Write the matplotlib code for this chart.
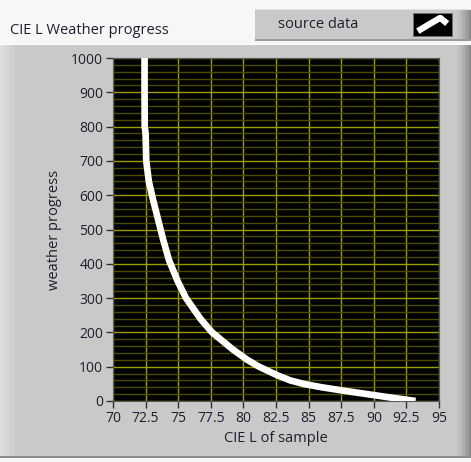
import matplotlib
matplotlib.use("Agg")
import matplotlib.pyplot as plt
from matplotlib.patches import Rectangle
from matplotlib.ticker import MultipleLocator

plt.rcParams["font.family"] = ["Open Sans", "DejaVu Sans"]

# weather progress vs CIE L of the sample
weather = [1000, 900, 800, 780, 700, 640, 590, 530, 470, 410, 350, 300,
           240, 200, 150, 120, 100, 75, 60, 50, 40, 30, 20, 10, 0]
cie_l = [72.42, 72.42, 72.43, 72.5, 72.55, 72.75, 73.05, 73.45, 73.85,
         74.3, 74.95, 75.6, 76.7, 77.6, 79.2, 80.3, 81.2, 82.6,
         83.6, 84.6, 86.0, 87.7, 89.5, 91.3, 93.2]

x_ticks = [70, 72.5, 75, 77.5, 80, 82.5, 85, 87.5, 90, 92.5, 95]
x_tick_labels = ["70", "72.5", "75", "77.5", "80", "82.5", "85", "87.5",
                 "90", "92.5", "95"]
y_ticks = [0, 100, 200, 300, 400, 500, 600, 700, 800, 900, 1000]

W, H = 471, 462
PANEL = "#c9c9c9"
TXT = "#1e1e2e"
FS = 10.5

fig = plt.figure(figsize=(W / 100, H / 100), dpi=100)
fig.patch.set_facecolor("#f7f7f7")


def px_rect(x0, y0, x1, y1, **kw):
    # rectangle given in pixel coords, origin at top-left
    r = Rectangle((x0 / W, 1 - y1 / H), (x1 - x0) / W, (y1 - y0) / H,
                  transform=fig.transFigure, zorder=-5, **kw)
    fig.patches.append(r)
    return r


# graph panel with a bevelled edge
px_rect(0, 44, 471, 458, facecolor=PANEL, edgecolor="none")
px_rect(0, 44, 471, 45, facecolor="white", edgecolor="none")
px_rect(0, 456, 471, 458, facecolor="#8c8c8c", edgecolor="none")
for i, c in enumerate(["#dedede", "#dadada", "#d6d6d6", "#d2d2d2", "#cecece"]):
    px_rect(i * 3, 45, i * 3 + 3, 456, facecolor=c, edgecolor="none")
for i, c in enumerate(["#c2c2c2", "#b8b8b8", "#aaaaaa", "#9c9c9c", "#8a8a8a"]):
    px_rect(457 + i * 3, 45, 460 + i * 3, 456, facecolor=c, edgecolor="none")

# plot legend box
px_rect(255, 9, 471, 41, facecolor=PANEL, edgecolor="none")
px_rect(255, 9, 471, 10, facecolor="#e4e4e4", edgecolor="none")
px_rect(255, 39, 471, 41, facecolor="#9a9a9a", edgecolor="none")
for i, c in enumerate(["#c2c2c2", "#b8b8b8", "#aaaaaa", "#9c9c9c", "#8a8a8a"]):
    px_rect(457 + i * 3, 10, 460 + i * 3, 39, facecolor=c, edgecolor="none")
px_rect(413, 13, 452, 36, facecolor="black", edgecolor="#707070", linewidth=0.6)

# legend line glyph
lg = fig.add_axes([415 / W, 1 - 34 / H, 35 / W, 19 / H])
lg.set_xlim(0, 1)
lg.set_ylim(0, 1)
lg.axis("off")
lg.plot([0.08, 0.35, 0.72, 0.92], [0.15, 0.45, 0.85, 0.55], color="white",
        linewidth=4.5, solid_capstyle="butt", solid_joinstyle="miter")
fig.text(278 / W, 1 - 25 / H, "source data", fontsize=FS, color=TXT,
         va="center", ha="left")

fig.text(10 / W, 1 - 30 / H, "CIE L Weather progress", fontsize=FS,
         color=TXT, va="center", ha="left")

ax = fig.add_axes([113 / W, 1 - 401 / H, 326 / W, 343 / H])
ax.set_facecolor("black")
ax.set_xlim(70, 95)
ax.set_ylim(0, 1000)
ax.set_xticks(x_ticks)
ax.set_xticklabels(x_tick_labels)
ax.set_yticks(y_ticks)
ax.yaxis.set_minor_locator(MultipleLocator(20))
ax.grid(which="major", color="#9c9c00", linewidth=1.0)
ax.grid(which="minor", axis="y", color="#4c4c00", linewidth=1.0)
ax.set_axisbelow(True)
ax.tick_params(which="major", direction="out", length=5, width=1,
               color="#303030", labelsize=10, labelcolor=TXT, pad=2)
ax.tick_params(which="minor", length=0)
for s in ax.spines.values():
    s.set_color("#5a5a5a")
    s.set_linewidth(0.8)

ax.plot(cie_l, weather, color="white", linewidth=4.8,
        solid_capstyle="butt", solid_joinstyle="round", zorder=3)

ax.set_xlabel("CIE L of sample", fontsize=FS, color=TXT, labelpad=4)
ax.set_ylabel("weather progress", fontsize=FS, color=TXT, labelpad=7)

fig.savefig("out.png", dpi=100, facecolor=fig.get_facecolor())
